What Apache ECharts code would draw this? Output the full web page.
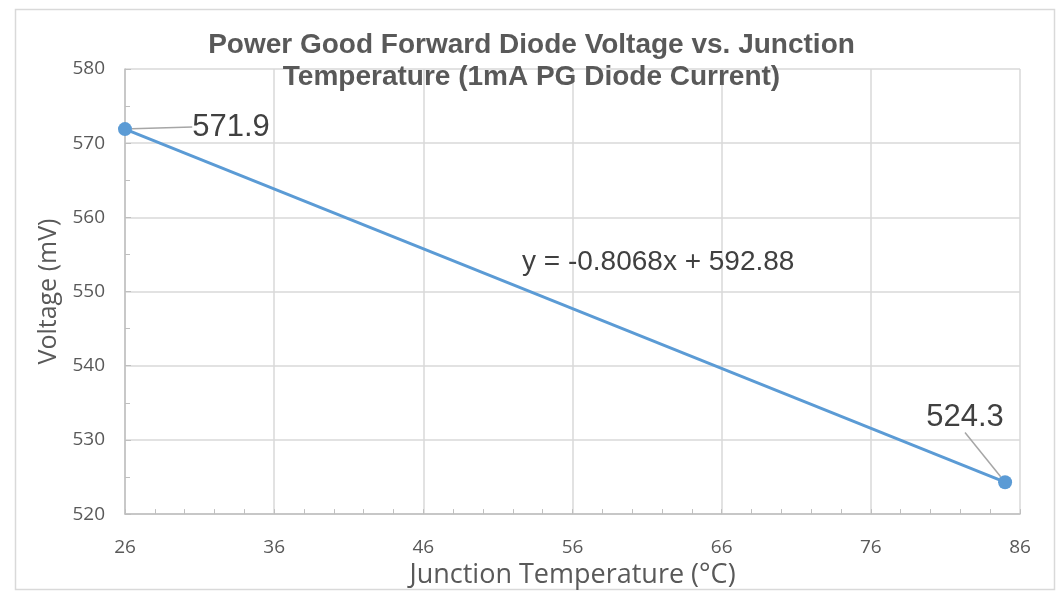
<!DOCTYPE html>
<html>
<head>
<meta charset="utf-8">
<script src="https://cdn.jsdelivr.net/npm/echarts@6/dist/echarts.min.js"></script>
<style>html,body{margin:0;padding:0;background:#fff;}#c{width:1063px;height:594px;}</style>
</head>
<body>
<div id="c"></div>
<script>
const titleLines = ['Power Good Forward Diode Voltage vs. Junction', 'Temperature (1mA PG Diode Current)'];
const temperatures = [26, 85];
const voltages = [571.9, 524.3];
const xAxisStart = 26;
const xAxisSpan = 60;
const xTickStep = 10;
const yMin = 520, yMax = 580, yStep = 10;
const equationText = 'y = -0.8068x + 592.88';
const xName = 'Junction Temperature (°C)';
const yName = 'Voltage (mV)';

const chart = echarts.init(document.getElementById('c'));
const FONT = '"Open Sans", "Liberation Sans", sans-serif';
const ARIAL = '"Liberation Sans", Arial, sans-serif';
const seriesData = temperatures.map((t, i) => [t - xAxisStart, voltages[i]]);

chart.setOption({
  animation: false,
  backgroundColor: '#fff',
  title: {
    text: titleLines.join('\n'),
    left: 'center',
    top: 24,
    textStyle: { fontFamily: ARIAL, fontSize: 28, fontWeight: 'bold', color: '#595959', lineHeight: 32 }
  },
  grid: { left: 125, right: 43, top: 69, bottom: 79 },
  xAxis: {
    type: 'value', min: 0, max: xAxisSpan, interval: xTickStep,
    name: xName, nameLocation: 'middle', nameGap: 40,
    nameTextStyle: { fontFamily: FONT, fontSize: 27, color: '#595959' },
    axisLine: { show: true, lineStyle: { color: '#bfbfbf', width: 1.5 } },
    axisTick: { show: true, inside: true, length: 5, lineStyle: { color: '#bfbfbf' } },
    minorTick: { show: true, splitNumber: 5, length: 5, lineStyle: { color: '#bfbfbf' } },
    splitLine: { show: true, lineStyle: { color: '#d9d9d9', width: 1.5 } },
    axisLabel: { margin: 24, fontFamily: FONT, fontSize: 19, color: '#595959' , formatter: v => String(v + xAxisStart) }
  },
  yAxis: {
    type: 'value', min: yMin, max: yMax, interval: yStep,
    name: yName, nameLocation: 'middle', nameGap: 64,
    nameTextStyle: { fontFamily: FONT, fontSize: 25, color: '#595959' },
    axisLine: { show: true, lineStyle: { color: '#bfbfbf', width: 1.5 } },
    axisTick: { show: true, inside: true, length: 6, lineStyle: { color: '#bfbfbf' } },
    minorTick: { show: true, splitNumber: 2, length: 5, lineStyle: { color: '#bfbfbf' } },
    splitLine: { show: true, lineStyle: { color: '#d9d9d9', width: 1.5 } },
    axisLabel: { margin: 20, fontFamily: FONT, fontSize: 19, color: '#595959' }
  },
  series: [{
    type: 'line',
    data: seriesData,
    symbol: 'circle',
    symbolSize: 14,
    lineStyle: { color: '#5B9BD5', width: 3 },
    itemStyle: { color: '#5B9BD5' },
    label: {
      show: true,
      formatter: p => p.value[1].toFixed(1),
      fontFamily: ARIAL, fontSize: 31, color: '#404040'
    },
    labelLine: { show: true, lineStyle: { color: '#a6a6a6', width: 1.5 } },
    labelLayout: p => p.dataIndex === 0 ? { x: 231, y: 127, align: 'center', verticalAlign: 'middle' } : { x: 965, y: 417, align: 'center', verticalAlign: 'middle' }
  }],
  graphic: [
    { type: 'rect', left: 13, top: 7, shape: { width: 1039, height: 580 }, style: { fill: 'none', stroke: '#d9d9d9', lineWidth: 1.5 }, z: -1 },
    { type: 'text', left: 522, top: 248, z: 100, style: { text: equationText, fontFamily: ARIAL, fontSize: 28, fill: '#404040' } }
  ]
});
</script>
</body>
</html>
